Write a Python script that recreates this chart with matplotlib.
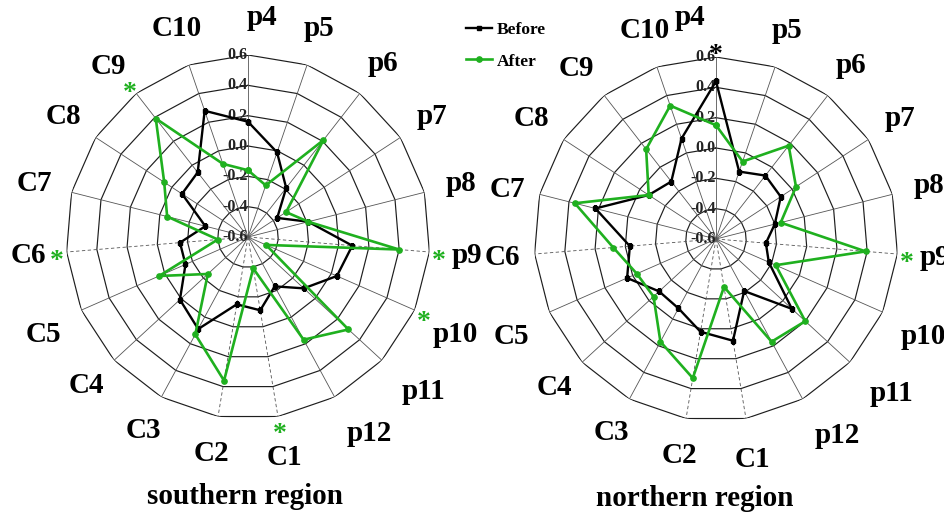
import numpy as np
import matplotlib
matplotlib.use('Agg')
import matplotlib.pyplot as plt
from matplotlib.lines import Line2D

plt.rcParams['font.family'] = ['Liberation Serif', 'DejaVu Serif']
plt.rcParams['font.weight'] = 'bold'

# spokes, clockwise from the top
axis_labels = ['p4', 'p5', 'p6', 'p7', 'p8', 'p9', 'p10', 'p11', 'p12',
               'C1', 'C2', 'C3', 'C4', 'C5', 'C6', 'C7', 'C8', 'C9', 'C10']

south_before = [0.16, -0.01, -0.19, -0.37, -0.19, 0.09, 0.04, -0.10, -0.23,
                -0.11, -0.15, 0.09, 0.01, -0.15, -0.15, -0.31, -0.08, -0.06, 0.28]
south_after = [-0.16, -0.24, 0.21, -0.30, -0.19, 0.40, -0.47, 0.30, 0.17,
               -0.39, 0.36, 0.13, -0.24, 0.04, -0.40, -0.05, 0.06, 0.39, -0.09]
north_before = [0.44, -0.13, -0.07, -0.09, -0.20, -0.27, -0.22, 0.08, -0.21,
                0.08, 0.02, -0.08, -0.09, 0.04, -0.03, 0.22, -0.07, -0.12, 0.10]
north_after = [0.15, -0.06, 0.18, 0.03, -0.16, 0.39, -0.17, 0.20, 0.17,
               -0.28, 0.33, 0.17, -0.04, -0.03, 0.08, 0.36, -0.07, 0.15, 0.33]

rings = [-0.4, -0.2, 0.0, 0.2, 0.4, 0.6]
tick_values = [-0.6, -0.4, -0.2, 0.0, 0.2, 0.4, 0.6]

# significance marks: (spoke label, colour)
south_stars = [('C9', 'g'), ('C6', 'g'), ('p9', 'g'), ('p10', 'g'), ('C1', 'g')]
north_stars = [('p4', 'k'), ('p9', 'g')]

GREEN = '#1fb01f'
DASHED = ['p9', 'C1', 'C2', 'C6']

# label nudges in pixels (right, down)
common_nudge = {'p10': (6, 9), 'p11': (14, 6), 'p12': (17, 3), 'C1': (0, 4),
                'C5': (-3, 9), 'C9': (-5, 3)}
south_nudge = dict(common_nudge, p4=(14, 0))
north_nudge = dict(common_nudge, p4=(-26, -2), C6=(6, 0), C7=(5, 4))

n = len(axis_labels)
theta = np.arange(n) * 2 * np.pi / n


def radar(ax, before, after, stars, nudge):
    ax.set_theta_zero_location('N')
    ax.set_theta_direction(-1)
    ax.set_ylim(-0.6, 0.6)
    ax.grid(False)
    ax.set_xticks([])
    ax.set_yticks([])
    ax.spines['polar'].set_visible(False)

    closed = np.append(theta, theta[0])
    for lvl in rings:
        ax.plot(closed, [lvl] * (n + 1), color='#1e1e1e', lw=0.85, zorder=1)
    for t, lab in zip(theta, axis_labels):
        ls = (0, (4, 3)) if lab in DASHED else '-'
        ax.plot([t, t], [-0.6, 0.6], color='#555555', lw=0.6, ls=ls, zorder=1)

    for v in tick_values:
        ax.text(0, v, '%.1f' % v, ha='right', va='center', fontsize=11.5,
                color='#222222', zorder=2)

    ax.plot(closed, np.append(before, before[0]), color='black', lw=1.7,
            marker='s', ms=3.5, zorder=3)
    ax.plot(closed, np.append(after, after[0]), color=GREEN, lw=1.9,
            marker='o', ms=3.8, zorder=4)

    for t, lab in zip(theta, axis_labels):
        dx, dy = nudge.get(lab, (0, 0))
        ax.annotate(lab, (t, 0.85), xytext=(dx * 0.72, -dy * 0.72),
                    textcoords='offset points', ha='center', va='center',
                    fontsize=21, annotation_clip=False)

    for lab, c in stars:
        t = theta[axis_labels.index(lab)]
        ax.annotate('*', (t, 0.665), xytext=(0, -6), textcoords='offset points',
                    ha='center', va='center', fontsize=20,
                    color=GREEN if c == 'g' else 'black', annotation_clip=False)


fig = plt.figure(figsize=(9.45, 5.13), dpi=100)
ax1 = fig.add_axes([66 / 945, 94 / 513, 364 / 945, 364 / 513], projection='polar')
ax2 = fig.add_axes([534 / 945, 92 / 513, 364 / 945, 364 / 513], projection='polar')

radar(ax1, south_before, south_after, south_stars, south_nudge)
radar(ax2, north_before, north_after, north_stars, north_nudge)

fig.text(245 / 945, 1 - 497 / 513, 'southern region', ha='center', va='center',
         fontsize=21)
fig.text(695 / 945, 1 - 499 / 513, 'northern region', ha='center', va='center',
         fontsize=21)

handles = [Line2D([], [], color='black', lw=1.7, marker='s', ms=3.5),
           Line2D([], [], color=GREEN, lw=1.9, marker='o', ms=3.8)]
fig.legend(handles, ['Before', 'After'], loc='upper left',
           bbox_to_anchor=(450 / 945, 1 - 6 / 513), frameon=False,
           handlelength=1.5, handletextpad=0.3, labelspacing=0.9,
           prop={'size': 12.5, 'weight': 'bold'})

fig.savefig('out.png', dpi=100)
